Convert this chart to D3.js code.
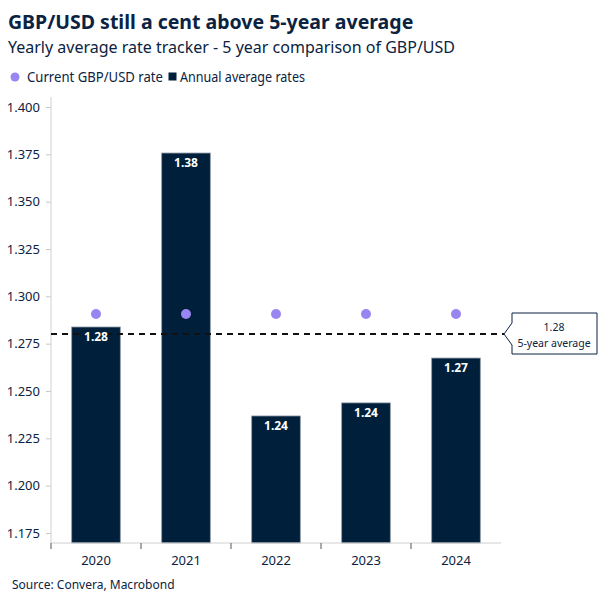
<!DOCTYPE html>
<html><head><meta charset="utf-8">
<script src="https://cdn.jsdelivr.net/npm/d3@7"></script>
<style>body{margin:0;background:#fff}svg{display:block;font-family:"Noto Sans",sans-serif}</style>
</head><body><svg id="c" width="604" height="604"></svg>
<script>
const years = ["2020","2021","2022","2023","2024"];
const annualAvg = [1.2838, 1.3757, 1.2368, 1.2437, 1.2674];
const barLabels = ["1.28","1.38","1.24","1.24","1.27"];
const currentRate = [1.2907, 1.2907, 1.2907, 1.2907, 1.2907];
const fiveYearAvg = 1.2801;
const yTicks = [1.175,1.2,1.225,1.25,1.275,1.3,1.325,1.35,1.375,1.4];

const navy = "#0b2341", barCol = "#001f3a", dotCol = "#9a86f2";
const svg = d3.select("#c");
const x = d3.scaleBand().domain(years).range([51, 501]).paddingInner(0.46).paddingOuter(0.23);
const xAxisScale = d3.scaleBand().domain(years).range([51, 501]);
const y = d3.scaleLinear().domain([1.1697, 1.4053]).range([543, 97]);

// title
svg.append("text").attr("x",8).attr("y",29).attr("font-size",19.5).attr("font-weight","bold").attr("fill",navy).text("GBP/USD still a cent above 5-year average");
svg.append("text").attr("x",8).attr("y",53).attr("font-size",16).attr("fill",navy).text("Yearly average rate tracker - 5 year comparison of GBP/USD");
// legend
svg.append("circle").attr("cx",15).attr("cy",77).attr("r",4.5).attr("fill",dotCol);
svg.append("text").attr("x",27).attr("y",82).attr("font-size",13.5).attr("fill",navy)
  .attr("textLength",136).attr("lengthAdjust","spacingAndGlyphs").text("Current GBP/USD rate");
svg.append("rect").attr("x",168.5).attr("y",72.5).attr("width",8).attr("height",8).attr("fill",barCol);
svg.append("text").attr("x",180).attr("y",82).attr("font-size",13.5).attr("fill",navy)
  .attr("textLength",125).attr("lengthAdjust","spacingAndGlyphs").text("Annual average rates");

// y axis
const ya = svg.append("g").attr("transform","translate(51,0)")
  .call(d3.axisLeft(y).tickValues(yTicks).tickFormat(d3.format(".3f")).tickSize(5).tickPadding(6));
ya.select(".domain").attr("stroke","#d0d0d0").attr("d","M0,97V543");
ya.selectAll(".tick line").attr("stroke","#c8c8c8");
ya.selectAll(".tick text").attr("fill",navy).attr("font-size",13).attr("font-family","Noto Sans");

// bars
svg.append("g").selectAll("rect").data(years).join("rect")
  .attr("x",d=>x(d)).attr("width",x.bandwidth())
  .attr("y",(d,i)=>y(annualAvg[i])).attr("height",(d,i)=>543-y(annualAvg[i]))
  .attr("fill",barCol).attr("stroke","#8a96a3").attr("stroke-width",0.8);

// x axis
const xa = svg.append("g").attr("transform","translate(0,543)")
  .call(d3.axisBottom(xAxisScale).tickSize(0).tickPadding(13));
xa.select(".domain").attr("stroke","#d0d0d0").attr("d","M51,0H501");
xa.selectAll(".tick text").attr("fill",navy).attr("font-size",13).attr("font-family","Noto Sans");
svg.append("g").selectAll("line").data(years).join("line")
  .attr("x1",d=>xAxisScale(d)).attr("x2",d=>xAxisScale(d)).attr("y1",543).attr("y2",549)
  .attr("stroke","#555");

// dashed average line
svg.append("line").attr("x1",51).attr("x2",504).attr("y1",y(fiveYearAvg)).attr("y2",y(fiveYearAvg))
  .attr("stroke","#111").attr("stroke-width",2).attr("stroke-dasharray","6,5");

// bar labels
svg.append("g").selectAll("text").data(years).join("text")
  .attr("x",d=>x(d)+x.bandwidth()/2).attr("y",(d,i)=>y(annualAvg[i])+14)
  .attr("text-anchor","middle").attr("fill","#fff").attr("font-size",12).attr("font-weight","bold")
  .text((d,i)=>barLabels[i]);

// dots
svg.append("g").selectAll("circle").data(years).join("circle")
  .attr("cx",d=>xAxisScale(d)+xAxisScale.bandwidth()/2).attr("cy",(d,i)=>y(currentRate[i])).attr("r",5)
  .attr("fill",dotCol);

// annotation
const ay = y(fiveYearAvg);
svg.append("path").attr("d",`M504,${ay}L512,${ay-11}V313H597V354H512V${ay+11}Z`)
  .attr("fill","#fff").attr("stroke","#0b2341").attr("stroke-width",1);
svg.append("text").attr("x",554).attr("y",331).attr("text-anchor","middle").attr("font-size",10.5).attr("fill",navy).text(d3.format(".2f")(fiveYearAvg));
svg.append("text").attr("x",554).attr("y",347).attr("text-anchor","middle").attr("font-size",10.5).attr("fill",navy).text("5-year average");

// source
svg.append("text").attr("x",12).attr("y",589).attr("font-size",12).attr("fill",navy).text("Source: Convera, Macrobond");
</script></body></html>
